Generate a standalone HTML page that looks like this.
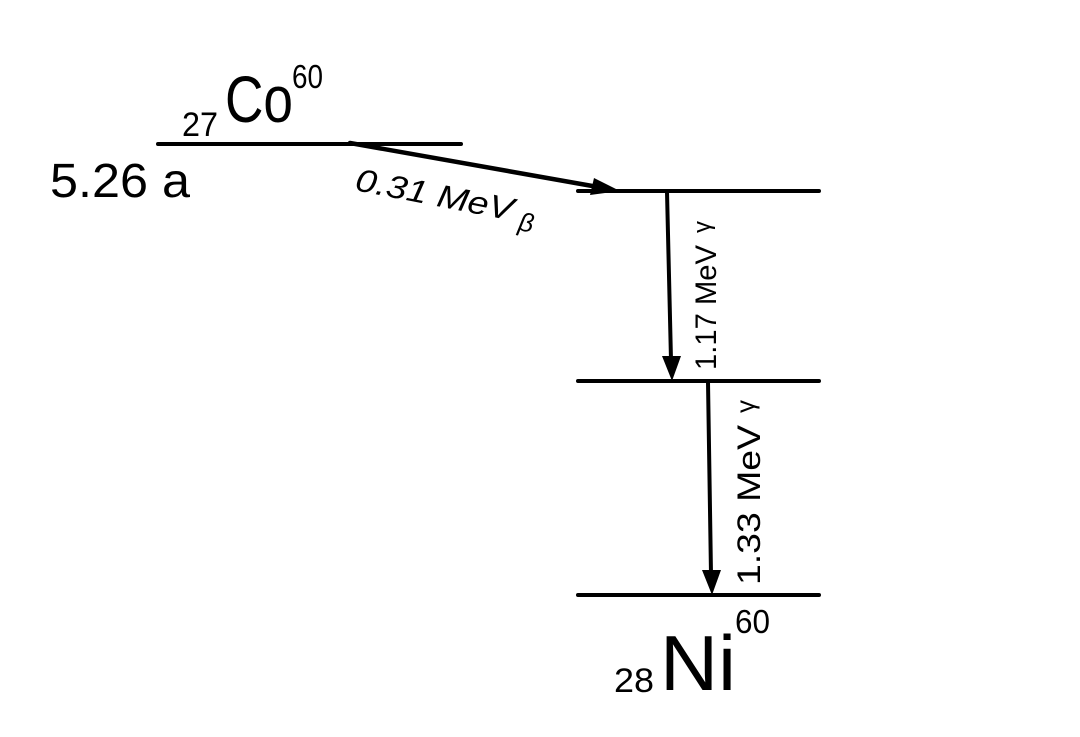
<!DOCTYPE html>
<html><head><meta charset="utf-8"><style>
body{margin:0;background:#fff}
svg{display:block}
text{font-family:"Liberation Sans",sans-serif;fill:#000}
</style></head><body>
<svg width="1080" height="737" viewBox="0 0 1080 737" xmlns="http://www.w3.org/2000/svg">
<g stroke="#000" stroke-width="4" stroke-linecap="round">
<line x1="158" y1="144" x2="461" y2="144"/>
<line x1="578" y1="191" x2="819" y2="191"/>
<line x1="578" y1="381" x2="819" y2="381"/>
<line x1="578" y1="595" x2="819" y2="595"/>
<line x1="350" y1="143" x2="598" y2="187" stroke-width="4.5"/>
<line x1="667" y1="192" x2="671" y2="360" stroke-width="4"/>
<line x1="708" y1="382" x2="711" y2="574" stroke-width="4"/>
</g>
<polygon points="620,191 590,195 594,178" fill="#000"/>
<polygon points="672,381 662,356 681,356" fill="#000"/>
<polygon points="712,595 702,570 721,570" fill="#000"/>
<text x="225" y="122" font-size="66" textLength="68" lengthAdjust="spacingAndGlyphs">Co</text>
<text x="182" y="136" font-size="34" textLength="36" lengthAdjust="spacingAndGlyphs">27</text>
<text x="292" y="88" font-size="33" textLength="31" lengthAdjust="spacingAndGlyphs">60</text>
<text x="50" y="197" font-size="48" textLength="140" lengthAdjust="spacingAndGlyphs">5.26 a</text>
<text transform="translate(354,190) rotate(11)" font-size="32" font-style="italic"><tspan textLength="160" lengthAdjust="spacingAndGlyphs">0.31 MeV</tspan><tspan font-size="26" dx="8" dy="8">β</tspan></text>
<text transform="translate(716,370) rotate(-90)" font-size="30"><tspan textLength="125" lengthAdjust="spacingAndGlyphs">1.17 MeV</tspan><tspan font-size="24" dx="12" dy="-6">γ</tspan></text>
<text transform="translate(760,585) rotate(-90)" font-size="32"><tspan textLength="160" lengthAdjust="spacingAndGlyphs">1.33 MeV</tspan><tspan font-size="26" dx="12" dy="-6">γ</tspan></text>
<text x="660" y="690" font-size="78" textLength="76" lengthAdjust="spacingAndGlyphs">Ni</text>
<text x="614" y="692" font-size="34" textLength="40" lengthAdjust="spacingAndGlyphs">28</text>
<text x="735" y="633" font-size="33" textLength="35" lengthAdjust="spacingAndGlyphs">60</text>
</svg>
</body></html>
